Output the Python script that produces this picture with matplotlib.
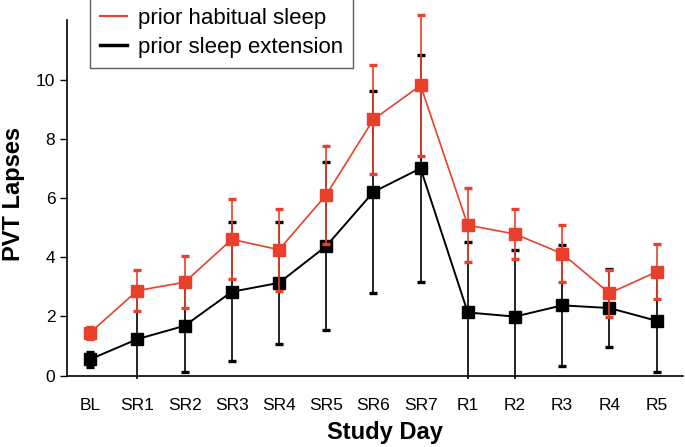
import numpy as np
import matplotlib
matplotlib.use("Agg")
import matplotlib.pyplot as plt
from matplotlib.lines import Line2D

plt.rcParams.update({"font.family": ["Liberation Sans", "DejaVu Sans"]})

days = ["BL", "SR1", "SR2", "SR3", "SR4", "SR5", "SR6", "SR7",
        "R1", "R2", "R3", "R4", "R5"]

# prior habitual sleep (mean, error)
habit_mean = [1.45, 2.87, 3.15, 4.60, 4.25, 6.10, 8.65, 9.80, 5.08, 4.78, 4.12, 2.78, 3.50]
habit_err = [0.20, 0.68, 0.88, 1.35, 1.38, 1.65, 1.85, 2.39, 1.25, 0.84, 0.97, 0.80, 0.93]

# prior sleep extension (mean, error)
ext_mean = [0.55, 1.23, 1.68, 2.83, 3.13, 4.37, 6.20, 7.00, 2.13, 1.99, 2.37, 2.28, 1.85]
ext_err = [0.25, 1.50, 1.57, 2.35, 2.07, 2.83, 3.42, 3.83, 2.39, 2.25, 2.05, 1.31, 1.73]

RED = "#e8402a"

fig = plt.figure(figsize=(6.85, 4.47), dpi=100)
ax = fig.add_axes([0.098, 0.152, 0.899, 0.829])

x = np.arange(len(days))

ax.errorbar(x, ext_mean, yerr=ext_err, color="black", marker="s", ms=8,
            lw=1.4, elinewidth=1.2, capsize=3, capthick=2.4, zorder=2)
ax.errorbar(x, habit_mean, yerr=habit_err, color=RED, marker="s", ms=8,
            lw=1.2, elinewidth=1.2, capsize=3, capthick=2.4, zorder=3)

ax.set_xlim(-0.49, 12.56)
ax.set_ylim(-0.12, 12.4)
ax.spines["top"].set_visible(False)
ax.spines["right"].set_visible(False)
ax.spines["bottom"].set_position(("data", 0))
ax.spines["left"].set_bounds(0, 12)
ax.spines["left"].set_linewidth(1.2)
ax.spines["bottom"].set_linewidth(1.2)

ax.set_yticks([0, 2, 4, 6, 8, 10])
ax.set_xticks(x)
ax.set_xticklabels(days)
ax.tick_params(axis="x", length=0, pad=16, labelsize=12.5)
ax.tick_params(axis="y", length=5, width=1, labelsize=12.5)

ax.set_ylabel("PVT Lapses", fontsize=17, fontweight="bold", labelpad=8)
fig.text(0.562, 0.033, "Study Day", fontsize=17, fontweight="bold",
         ha="center", va="center")

h = [Line2D([], [], color=RED, lw=1.5), Line2D([], [], color="black", lw=2.5)]
leg = ax.legend(h, ["prior habitual sleep", "prior sleep extension"],
                loc="upper left", bbox_to_anchor=(90 / 685, 1.005),
                bbox_transform=fig.transFigure, borderaxespad=0,
                fontsize=16, frameon=True, fancybox=False,
                handlelength=1.2, handletextpad=0.5, labelspacing=0.35,
                borderpad=0.45)
leg.get_frame().set_edgecolor("#333333")
leg.get_frame().set_linewidth(1.0)

fig.savefig("out.png", dpi=100)
